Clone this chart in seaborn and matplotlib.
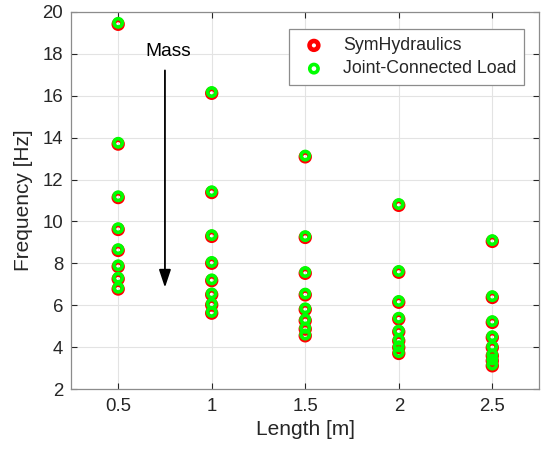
import numpy as np
import pandas as pd
import seaborn as sns
import matplotlib.pyplot as plt

# lengths in m, 8 mass cases per length
lengths = [0.5, 1.0, 1.5, 2.0, 2.5]

freq_joint = [
    [19.47, 13.75, 11.20, 9.68, 8.68, 7.91, 7.32, 6.84],
    [16.17, 11.44, 9.35, 8.07, 7.24, 6.57, 6.08, 5.69],
    [13.14, 9.30, 7.59, 6.56, 5.86, 5.33, 4.93, 4.61],
    [10.83, 7.64, 6.21, 5.41, 4.80, 4.37, 4.05, 3.77],
    [9.11, 6.44, 5.25, 4.53, 4.05, 3.66, 3.42, 3.18],
]
freq_sym = [
    [19.40, 13.69, 11.14, 9.62, 8.62, 7.85, 7.26, 6.78],
    [16.11, 11.38, 9.29, 8.01, 7.18, 6.51, 6.02, 5.63],
    [13.08, 9.24, 7.53, 6.50, 5.80, 5.27, 4.87, 4.55],
    [10.77, 7.58, 6.15, 5.35, 4.74, 4.31, 3.99, 3.71],
    [9.05, 6.38, 5.19, 4.47, 3.99, 3.60, 3.36, 3.12],
]

x_ticks = [0.5, 1, 1.5, 2, 2.5]
x_ticklabels = ["0.5", "1", "1.5", "2", "2.5"]
y_ticks = [2, 4, 6, 8, 10, 12, 14, 16, 18, 20]


def to_frame(freqs):
    rows = []
    for L, col in zip(lengths, freqs):
        for f in col:
            rows.append({"length": L, "freq": f})
    return pd.DataFrame(rows)


sns.set_theme(style="ticks")
plt.rcParams["font.family"] = ["Liberation Sans", "DejaVu Sans"]
plt.rcParams["xtick.direction"] = "in"
plt.rcParams["ytick.direction"] = "in"

fig = plt.figure(figsize=(5.41, 4.53), dpi=100)
ax = fig.add_axes([0.132, 0.1406, 0.8644, 0.8336])

sym_df = to_frame(freq_sym)
joint_df = to_frame(freq_joint)

sns.scatterplot(data=sym_df, x="length", y="freq", ax=ax, marker="o", s=40,
                color="#ff0000", facecolors="none", edgecolor="#ff0000",
                linewidth=3.3, label="SymHydraulics", zorder=3)
sns.scatterplot(data=joint_df, x="length", y="freq", ax=ax, marker="o", s=36,
                color="#00ff00", facecolors="none", edgecolor="#00ff00",
                linewidth=2.6, label="Joint-Connected Load", zorder=4)

ax.set_xlim(0.25, 2.75)
ax.set_ylim(2, 20)
ax.set_xticks(x_ticks)
ax.set_xticklabels(x_ticklabels)
ax.set_yticks(y_ticks)
ax.grid(True, color="#e3e3e3", linewidth=0.8)
ax.set_axisbelow(True)

for sp in ax.spines.values():
    sp.set_visible(True)
    sp.set_color("#8c8c8c")
    sp.set_linewidth(0.9)
ax.tick_params(axis="both", which="both", top=True, right=True,
               length=4, width=0.8, color="#262626",
               labelsize=13.4, labelcolor="#262626", pad=6)

ax.set_xlabel("Length [m]", fontsize=15, color="#262626", labelpad=4)
ax.set_ylabel("Frequency [Hz]", fontsize=15, color="#262626", labelpad=7)

ax.annotate("", xy=(0.75, 6.85), xytext=(0.75, 17.2),
            arrowprops=dict(arrowstyle="-|>,head_length=0.9,head_width=0.3",
                            color="black", lw=1.3, shrinkA=0, shrinkB=0))
ax.text(0.77, 18.1, "Mass", fontsize=13.8, ha="center", va="center", color="black")

leg = ax.legend(loc="upper right", bbox_to_anchor=(0.968, 0.954),
                borderaxespad=0, fontsize=12.8, frameon=True, fancybox=False,
                framealpha=1, edgecolor="#8c8c8c", handletextpad=0.67,
                borderpad=0.45, labelspacing=0.35, handlelength=1.9)
leg.get_frame().set_linewidth(0.9)

fig.savefig("out.png", dpi=100)
plt.close(fig)
